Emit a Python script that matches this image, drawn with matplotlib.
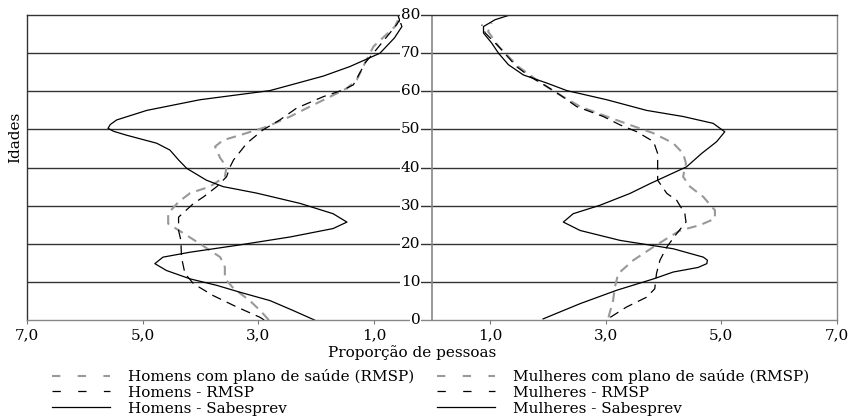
import matplotlib
matplotlib.use('Agg')
import matplotlib.pyplot as plt
from matplotlib.lines import Line2D

plt.rcParams['font.family'] = ['DejaVu Serif']
plt.rcParams['lines.scale_dashes'] = False

# idades e proporcoes (%)
idade_h_sabes = [0, 2.5, 5.1, 7.3, 9.1, 10.8, 13, 14.8, 16.5, 17.8, 19.6, 21.8, 24, 25.7,
                 27.9, 30.6, 33.3, 35, 36.7, 39.8, 42, 44.6, 46.4, 48.5, 49.5, 50.3, 51.3, 52.5, 55,
                 57.8, 60.2, 64, 66.5, 70, 74, 77, 80]
prop_h_sabes = [2.03, 2.40, 2.80, 3.32, 3.72, 4.18, 4.59, 4.79, 4.65, 4.18, 3.37, 2.45, 1.71, 1.47,
                1.71, 2.28, 3.03, 3.61, 3.90, 4.24, 4.38, 4.53, 4.76, 5.28, 5.50, 5.60, 5.56, 5.45, 4.93,
                4.01, 2.80, 1.88, 1.42, 0.90, 0.65, 0.52, 0.59]

idade_h_rmsp = [0, 0.7, 3.4, 6.4, 9.5, 12.2, 16.5, 20.9, 23.5, 27, 30.6, 32.3, 35, 37.6, 40.2,
                42, 46.4, 49.9, 52.5, 55.6, 58.6, 60.4, 61.7, 65.6, 67.4, 71, 77.5, 79]
prop_h_rmsp = [2.90, 2.97, 3.37, 3.78, 4.12, 4.27, 4.33, 4.34, 4.38, 4.38, 4.12, 3.95, 3.72, 3.55, 3.49,
               3.43, 3.20, 2.92, 2.63, 2.34, 1.88, 1.53, 1.36, 1.22, 1.16, 0.96, 0.61, 0.55]

idade_h_plano = [0, 2.5, 5.1, 8.3, 10.9, 13.9, 16.5, 20, 23.1, 25.3, 28, 31, 33.3, 35, 37.6,
                 40.2, 42.5, 45.5, 47.2, 48.5, 50.7, 53.4, 56, 58.6, 60.8, 63, 66.5, 71.8, 77, 79]
prop_h_plano = [2.82, 2.97, 3.15, 3.43, 3.58, 3.58, 3.66, 4.01, 4.33, 4.56, 4.56, 4.38, 4.18, 3.84, 3.58,
                3.55, 3.66, 3.75, 3.61, 3.32, 2.86, 2.45, 2.11, 1.76, 1.47, 1.30, 1.19, 1.01, 0.64, 0.58]

idade_m_sabes = [0.3, 4.3, 7.8, 10.8, 12.6, 13.8, 14.8, 15.7, 16.5, 18.7, 20.9, 23.5, 25.7, 27.9,
                 30.1, 33.2, 35.8, 40.2, 43.7, 46.8, 49.4, 51.6, 53.4, 55, 57.8, 60.2, 62.2, 64.3,
                 67, 70, 72.7, 75.3, 77, 78.8, 80]
prop_m_sabes = [1.92, 2.56, 3.19, 3.83, 4.17, 4.60, 4.75, 4.76, 4.69, 4.17, 3.25, 2.56, 2.27, 2.44,
                2.90, 3.42, 3.77, 4.40, 4.66, 4.92, 5.06, 4.86, 4.34, 3.71, 3.02, 2.33, 1.98, 1.58,
                1.32, 1.15, 1.03, 0.89, 0.89, 1.09, 1.34]

idade_m_rmsp = [0.7, 3.4, 6, 8.2, 12.2, 15.7, 19.2, 22.7, 25.7, 27.9, 31.4, 33.2, 36.7, 40, 43.7,
                46.8, 49.4, 51.2, 53.4, 56, 59.1, 61.3, 63.9, 66.5, 71.8, 75.3, 77.5]
prop_m_rmsp = [3.08, 3.36, 3.71, 3.85, 3.88, 3.94, 4.06, 4.23, 4.39, 4.37, 4.23, 4.06, 3.90, 3.90, 3.90,
               3.83, 3.54, 3.25, 2.96, 2.50, 2.21, 1.98, 1.69, 1.46, 1.15, 0.92, 0.86]

idade_m_plano = [0.7, 5.1, 8.6, 12.2, 15.7, 19.2, 21.4, 23.5, 24.9, 26.6, 28.8, 32.3, 35, 37.6, 41.1,
                 43.7, 46.4, 49, 51.2, 53.4, 56, 59.5, 63, 66.5, 71.8, 75.7, 78]
prop_m_plano = [3.05, 3.13, 3.16, 3.22, 3.48, 3.83, 4.06, 4.29, 4.63, 4.89, 4.89, 4.69, 4.46, 4.34, 4.39,
                4.34, 4.17, 3.83, 3.42, 3.02, 2.56, 2.16, 1.81, 1.49, 1.15, 0.97, 1.03]

ticks_x = [-7, -5, -3, -1, 1, 3, 5, 7]
rotulos_x = ['7,0', '5,0', '3,0', '1,0', '1,0', '3,0', '5,0', '7,0']
idades_grade = [0, 10, 20, 30, 40, 50, 60, 70, 80]

CINZA = '#999999'
TRACO = (7, 4.5)

fig = plt.figure(figsize=(8.54, 4.2), dpi=100)
ax = fig.add_axes([0.0316, 0.238, 0.9485, 0.726])

# grade horizontal e linha do zero
for idade in idades_grade[1:-1]:
    ax.axhline(idade, color='#333333', linewidth=1.0, zorder=1)
ax.axvline(0, color='#888888', linewidth=1.2, zorder=1)

# homens (lado esquerdo, valores negativos)
ax.plot([-v for v in prop_h_plano], idade_h_plano, color=CINZA, linewidth=1.5,
        dashes=TRACO, zorder=2)
ax.plot([-v for v in prop_h_rmsp], idade_h_rmsp, color='black', linewidth=0.9,
        dashes=TRACO, zorder=2)
ax.plot([-v for v in prop_h_sabes], idade_h_sabes, color='black', linewidth=0.9, zorder=2)

# mulheres (lado direito)
ax.plot(prop_m_plano, idade_m_plano, color=CINZA, linewidth=1.5, dashes=TRACO, zorder=2)
ax.plot(prop_m_rmsp, idade_m_rmsp, color='black', linewidth=0.9, dashes=TRACO, zorder=2)
ax.plot(prop_m_sabes, idade_m_sabes, color='black', linewidth=0.9, zorder=2)

# rotulos das idades no centro
for idade in idades_grade:
    ax.text(-0.2, idade, str(idade), ha='right', va='center', fontsize=11,
            bbox=dict(facecolor='white', edgecolor='none', pad=0.5), zorder=4)

ax.set_xlim(-7, 7)
ax.set_ylim(0, 80)
ax.set_yticks([])
ax.set_xticks(ticks_x)
ax.set_xticklabels(rotulos_x, fontsize=11)
ax.tick_params(axis='x', direction='out', length=3, width=0.8, color='#777777', pad=3)

ax.spines['left'].set_color('#333333')
ax.spines['top'].set_color('#333333')
ax.spines['right'].set_color('#888888')
ax.spines['bottom'].set_color('#888888')
for sp in ax.spines.values():
    sp.set_linewidth(1.0)

fig.text(15 / 854, 1 - 137 / 420, 'Idades', rotation=90, ha='center', va='center', fontsize=11)
fig.text(412 / 854, 1 - 353 / 420, 'Proporção de pessoas', ha='center', va='center', fontsize=11)

# legendas
def alcas():
    return [Line2D([], [], color=CINZA, linewidth=1.5, dashes=(6, 12.5)),
            Line2D([], [], color='black', linewidth=0.9, dashes=(6, 12.5)),
            Line2D([], [], color='black', linewidth=0.9)]

estilo_leg = dict(loc='upper left', frameon=False, fontsize=11, borderpad=0,
                  borderaxespad=0, handlelength=3.8, handletextpad=1.15,
                  labelspacing=0.12)

fig.legend(alcas(), ['Homens com plano de saúde (RMSP)', 'Homens - RMSP', 'Homens - Sabesprev'],
           bbox_to_anchor=(52 / 854, 1 - 369 / 420), **estilo_leg)
fig.legend(alcas(), ['Mulheres com plano de saúde (RMSP)', 'Mulheres - RMSP', 'Mulheres - Sabesprev'],
           bbox_to_anchor=(437 / 854, 1 - 369 / 420), **estilo_leg)

fig.savefig('out.png', dpi=100)
